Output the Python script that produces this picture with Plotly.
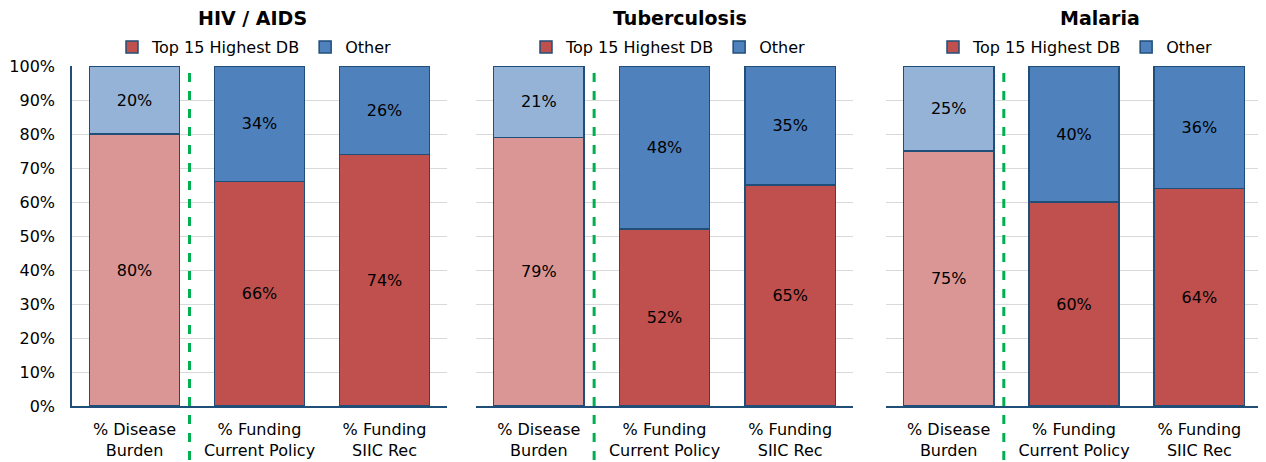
import plotly.graph_objects as go

# data
diseases = ["HIV / AIDS", "Tuberculosis", "Malaria"]
categories = ["% Disease<br>Burden", "% Funding<br>Current Policy", "% Funding<br>SIIC Rec"]
top15_hiv = [0.80, 0.66, 0.74]
other_hiv = [0.20, 0.34, 0.26]
top15_tb = [0.79, 0.52, 0.65]
other_tb = [0.21, 0.48, 0.35]
top15_mal = [0.75, 0.60, 0.64]
other_mal = [0.25, 0.40, 0.36]
series_names = ["Top 15 Highest DB", "Other"]

# styles
# the page body has an 8px margin, so the figure is drawn 8px smaller and
# every pixel position below is shifted by that offset
OFF = 8
W, H = 1266 - OFF, 462 - OFF
font_family = "DejaVu Sans, Arial, sans-serif"
col_top = "#C0504D"
col_top_light = "#DA9694"
col_other = "#4F81BD"
col_other_light = "#95B3D7"
col_edge = "#1F4E79"
col_grid = "#D9D9D9"
col_div = "#00B050"

# pixel layout (in screenshot pixels) of each panel: [left, right] of plot area
panels_px = [[72, 447], [476, 853], [886, 1262]]
title_px = [252, 680, 1100]
legend_px = [254, 668, 1075]
plot_top, plot_bottom = 66, 406


def px_x(p):
    return (p - OFF) / W


def px_y(p):
    return 1 - (p - OFF) / H


values = [(top15_hiv, other_hiv), (top15_tb, other_tb), (top15_mal, other_mal)]

fig = go.Figure()

for i, (top, other) in enumerate(values):
    sfx = "" if i == 0 else str(i + 1)
    xa, ya, lg = "x" + sfx, "y" + sfx, "legend" + sfx
    for name, vals, light, dark in [(series_names[0], top, col_top_light, col_top),
                                    (series_names[1], other, col_other_light, col_other)]:
        # disease burden bar (lighter shade)
        fig.add_trace(go.Bar(
            x=categories[:1], y=vals[:1], name=name, xaxis=xa, yaxis=ya,
            marker=dict(color=light, line=dict(color=col_edge, width=1.5)),
            text=[f"{v:.0%}" for v in vals[:1]], textposition="inside",
            insidetextanchor="middle", textangle=0,
            textfont=dict(color="#000000", size=16, family=font_family),
            showlegend=False, legend=lg,
        ))
        # funding bars
        fig.add_trace(go.Bar(
            x=categories[1:], y=vals[1:], name=name, xaxis=xa, yaxis=ya,
            marker=dict(color=dark, line=dict(color=col_edge, width=1.5)),
            text=[f"{v:.0%}" for v in vals[1:]], textposition="inside",
            insidetextanchor="middle", textangle=0,
            textfont=dict(color="#000000", size=16, family=font_family),
            showlegend=True, legend=lg,
        ))

    fig.update_layout(**{
        "xaxis" + sfx: dict(
            domain=[px_x(panels_px[i][0]), px_x(panels_px[i][1])], anchor=ya,
            showline=True, linecolor=col_edge, linewidth=1.5,
            ticks="", tickfont=dict(size=16, color="#000000", family=font_family),
            showgrid=False, fixedrange=True, ticklabelstandoff=8, automargin=False,
        ),
        "yaxis" + sfx: dict(
            domain=[px_y(plot_bottom), px_y(plot_top)], anchor=xa, range=[0, 1],
            dtick=0.1, tickformat=".0%", gridcolor=col_grid, gridwidth=1,
            showline=(i == 0), linecolor=col_edge, linewidth=1.5,
            showticklabels=(i == 0), ticks="", ticklabelstandoff=12,
            tickfont=dict(size=16, color="#000000", family=font_family),
            zeroline=False, automargin=False, fixedrange=True,
        ),
        lg: dict(
            orientation="h", x=px_x(legend_px[i]), xanchor="center", y=px_y(47),
            yanchor="middle", traceorder="normal", bgcolor="rgba(0,0,0,0)",
            font=dict(size=16, color="#000000", family=font_family),
            itemwidth=30, tracegroupgap=0,
        ),
    })

    # green dashed divider after the disease burden bar
    fig.add_shape(type="line", xref=xa, yref="paper", x0=0.44, x1=0.44,
                  y0=px_y(460), y1=px_y(plot_top),
                  line=dict(color=col_div, width=3, dash="dash"), layer="above")

    # panel title
    fig.add_annotation(text=f"<b>{diseases[i]}</b>", xref="paper", yref="paper",
                       x=px_x(title_px[i]), y=px_y(18), xanchor="center", yanchor="middle",
                       showarrow=False, font=dict(size=19, color="#000000", family=font_family))

fig.update_layout(
    width=W, height=H,
    barmode="stack", bargap=0.28,
    margin=dict(l=0, r=0, t=0, b=0),
    paper_bgcolor="white", plot_bgcolor="white",
    font=dict(family=font_family, color="#000000"),
)

fig.write_html("out.html")
